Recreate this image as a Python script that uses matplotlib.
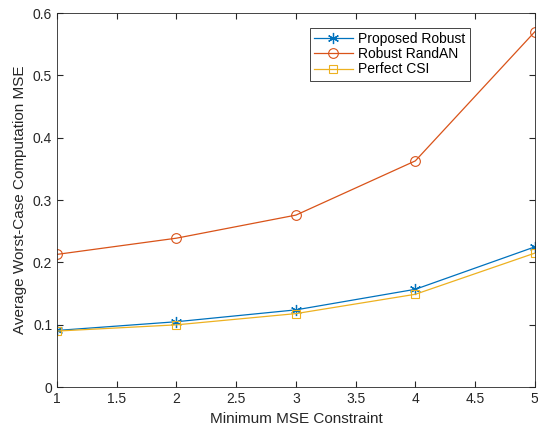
import numpy as np
import matplotlib
matplotlib.use("Agg")
import matplotlib.pyplot as plt

plt.rcParams['font.family'] = ['Liberation Sans', 'DejaVu Sans']

x = [1, 2, 3, 4, 5]
proposed = [0.091, 0.105, 0.124, 0.157, 0.225]
randan = [0.213, 0.239, 0.276, 0.363, 0.570]
perfect = [0.090, 0.100, 0.118, 0.149, 0.215]

fig = plt.figure(figsize=(5.38, 4.37), dpi=100)
ax = fig.add_axes([0.106, 0.114, 0.888, 0.856])

ax.plot(x, proposed, marker=(6, 2, 0), color='#0072BD', lw=0.9, ms=8, mew=0.9, label='Proposed Robust')
ax.plot(x, randan, marker='o', color='#D95319', lw=0.9, ms=7, mfc='none', mew=0.8, label='Robust RandAN')
ax.plot(x, perfect, marker='s', color='#EDB120', lw=0.9, ms=6, mfc='none', mew=0.8, label='Perfect CSI')

ax.set_xlim(1, 5)
ax.set_ylim(0, 0.6)
ax.set_xticks(np.arange(1, 5.01, 0.5))
ax.set_xticklabels(['1', '1.5', '2', '2.5', '3', '3.5', '4', '4.5', '5'])
ax.set_yticks(np.arange(0, 0.61, 0.1))
ax.set_yticklabels(['0', '0.1', '0.2', '0.3', '0.4', '0.5', '0.6'])
ax.tick_params(direction='in', top=True, right=True, labelsize=10, colors='#262626', length=4)
for s in ax.spines.values():
    s.set_color('#262626')
    s.set_linewidth(0.6)
ax.set_xlabel('Minimum MSE Constraint', fontsize=11, color='#262626')
ax.set_ylabel('Average Worst-Case Computation MSE', fontsize=11, color='#262626')

leg = ax.legend(loc='upper right', bbox_to_anchor=(0.878, 0.98), fontsize=10, fancybox=False,
                edgecolor='#262626', framealpha=1, borderpad=0.3, labelspacing=0.1,
                handlelength=2.8, handletextpad=0.4)
leg.get_frame().set_linewidth(0.6)

fig.savefig('out.png', dpi=100)
